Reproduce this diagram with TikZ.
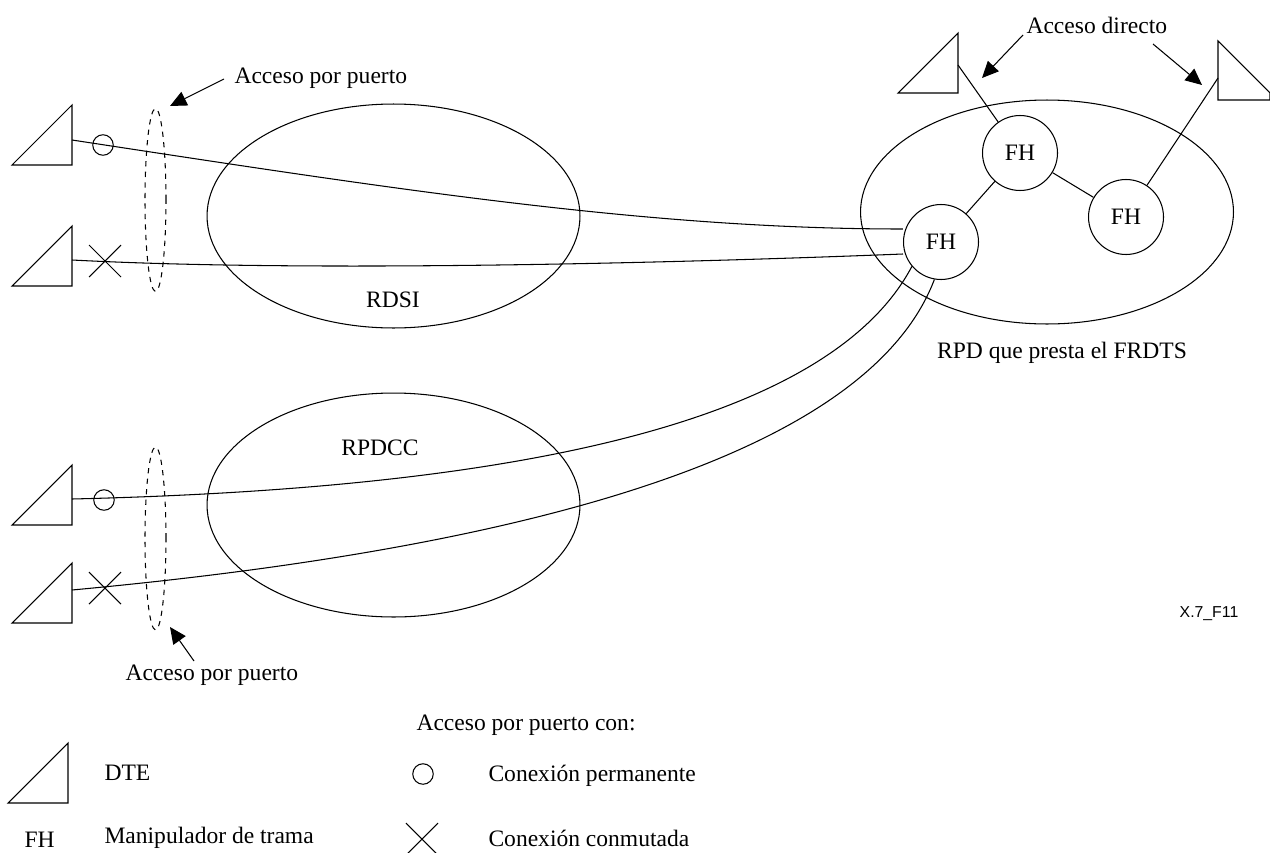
\documentclass[tikz,border=0pt]{standalone}
\usepackage{fontspec}
\setmainfont{Liberation Serif}
\newfontfamily\tagfont{Liberation Sans}
\usetikzlibrary{arrows.meta,shapes.geometric,shapes.misc}
\tikzset{
 dte/.pic={\draw[line join=miter] (0,0)--(-60,60)--(0,60)--cycle;},
 fh/.style={draw,circle,minimum size=1.5cm,inner sep=0pt},
 redes/.style={draw,ellipse,minimum width=7.46cm,minimum height=4.48cm,inner sep=0pt},
 port/.style={draw,dashed,ellipse,minimum width=.42cm,minimum height=3.66cm,inner sep=0pt},
 perm/.style={draw,circle,minimum size=.41cm,inner sep=0pt},
 conm/.style={draw,cross out,minimum size=.64cm,inner sep=0pt,outer sep=0pt},
 rotulo/.style={anchor=west,inner sep=0pt},
 callout/.style={-{Triangle[length=.33cm,width=.3cm]}},
}
\begin{document}
\begin{tikzpicture}[x=.02cm,y=-.02cm,line width=.6pt,font=\fontsize{13.4pt}{15pt}\selectfont]
 \useasboundingbox (0,0) rectangle (1270,852);
 \path
 (393.5,216) node[redes] (RDSI) {}
 (393.5,505) node[redes] (RPDCC) {}
 (1047,212) node[redes] (RPD) {}
 (155.5,200) node[port] (P1) {}
 (155.5,538.5) node[port] (P2) {}
 (941,242) node[fh] (F1) {FH}
 (1020,153) node[fh] (F2) {FH}
 (1126,217) node[fh] (F3) {FH};
 % DTE
 \path
 (72,105) pic{dte} ++(0,35) coordinate (T1)
 (72,226) pic{dte} ++(0,34) coordinate (T2)
 (72,465) pic{dte} ++(0,34) coordinate (T3)
 (72,563) pic{dte} ++(0,27) coordinate (T4)
 (958,33) pic{dte} ++(0,32) coordinate (T5)
 (68,743) pic{dte};
 \draw[line join=miter] (1218,41)--(1270,93)--(1270,100)--(1218,100)--cycle;
 \coordinate (T6) at (1218,78);
 % lineas
 \draw (T1) .. controls (400,190) and (650,229) .. (F1.west|-0,229);
 \draw (T2) .. controls (300,272) and (650,264) .. (F1.west|-0,254);
 \draw (T3) .. controls (450,490) and (820,440) .. (F1.-140);
 \draw (T4) .. controls (450,555) and (860,475) .. (F1.-100);
 \draw (F1)--(F2) (F2)--(F3) (F2)--(T5) (F3)--(T6);
 % conexiones
 \path
 (103,145) node[perm] (C1) {}
 (104,500) node[perm] (C2) {}
 (105,261) node[conm] (X1) {}
 (105,588) node[conm] (X2) {};
 % textos
 \path
 (234,78) node[rotulo] (A1) {Acceso por puerto}
 (125,675) node[rotulo] (A2) {Acceso por puerto}
 (1026,25) node[rotulo] (A3) {Acceso directo}
 (393,300) node (L1) {RDSI}
 (380,448) node (L2) {RPDCC}
 (1062,353) node (L3) {RPD que presta el FRDTS}
 (1209,614) node[font=\tagfont\fontsize{9pt}{11pt}\selectfont] (L4) {X.7\_F11};
 \coordinate (E1) at (170,106);
 \coordinate (E2) at (170,627);
 \coordinate (E3) at (982,78);
 \coordinate (E4) at (1202,85);
 \coordinate (S1) at (224,79);
 \coordinate (S2) at (194,661);
 \coordinate (S3) at (1023,35);
 \coordinate (S4) at (1153,44);
 \draw[callout] (S1)--(E1);
 \draw[callout] (S2)--(E2);
 \draw[callout] (S3)--(E3);
 \draw[callout] (S4)--(E4);
 % leyenda
 \path
 (416,725) node[rotulo] (H0) {Acceso por puerto con:}
 (104,773) node[rotulo] (H1) {DTE}
 (24,840) node[rotulo] (H2) {FH}
 (104,838) node[rotulo] (H3) {Manipulador de trama}
 (423,774) node[perm] (H4) {}
 (422,839) node[conm] (H5) {}
 (488,776) node[rotulo] (H6) {Conexión permanente}
 (488,838) node[rotulo] (H7) {Conexión conmutada};
\end{tikzpicture}
\end{document}
